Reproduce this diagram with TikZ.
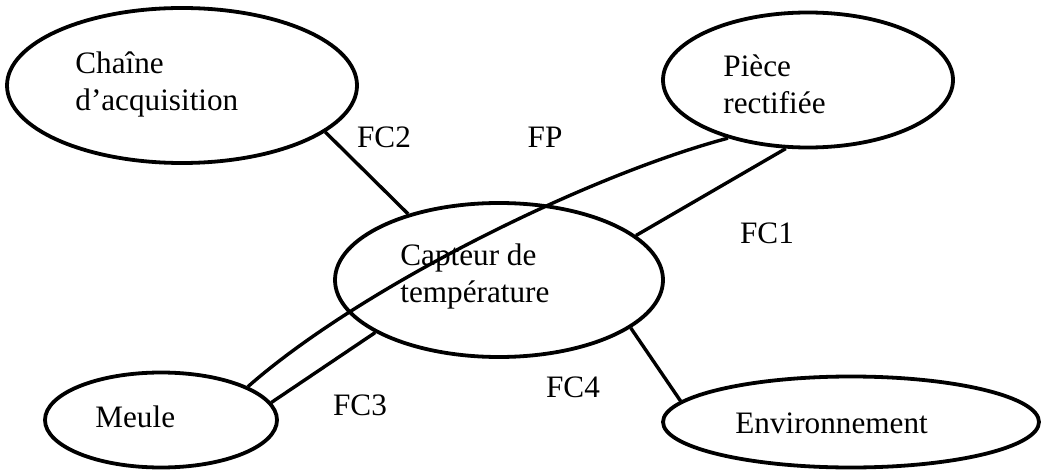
\documentclass[tikz,border=0pt]{standalone}
\usepackage{fontspec}
\setmainfont{Liberation Serif}
\usetikzlibrary{shapes.geometric}
\tikzset{%
    blob/.style={ellipse,draw,line width=1.9pt,inner sep=0pt},
    txt/.style={anchor=west,align=left,inner sep=0pt,font=\fontsize{15.6}{18.5}\selectfont}
}

\begin{document}
\begin{tikzpicture}[x=0.5pt,y=-0.5pt,
            edge/.style={line width=1.7pt},
            lbl/.style={inner sep=0pt,font=\fontsize{15.6}{18.5}\selectfont}
            ]
            \useasboundingbox (0,0) rectangle (1043,470);

            \node[blob,minimum width=175pt,minimum height=77.5pt] (chaine) at (182,85.5){};
            \node[blob,minimum width=145pt,minimum height=67.5pt] (piece) at (808,80){};
            \node[blob,minimum width=164pt,minimum height=77pt] (capteur) at (499,280){};
            \node[blob,minimum width=116pt,minimum height=47.5pt] (meule) at (161,420){};
            \node[blob,minimum width=188pt,minimum height=45.5pt] (env) at (851,422){};

            \node[txt] (chaine-txt) at (75,84.5){Chaîne\\d’acquisition};
            \node[txt] (piece-txt) at (723,84.5){Pièce\\rectifiée};
            \node[txt] (capteur-txt) at (400,276.5){Capteur de\\température};
            \node[txt] (meule-txt) at (95,417){Meule};
            \node[txt] (env-txt) at (735,423){Environnement};

            \draw[edge] (chaine.342) -- (capteur.144);
            \draw[edge] (piece.252) -- (capteur.18);
            \draw[edge] (meule.9) -- (capteur.203);
            \draw[edge] (capteur.340) -- (env.173);
            \draw[edge] (piece.216) .. controls (586,176) and (360,288) .. (meule.21);

            \node[lbl] (fc2) at (384,137){FC2};
            \node[lbl] (fp) at (545,137){FP};
            \node[lbl] (fc1) at (767,233){FC1};
            \node[lbl] (fc3) at (360,405){FC3};
            \node[lbl] (fc4) at (573,387){FC4};
        \end{tikzpicture}
\end{document}
